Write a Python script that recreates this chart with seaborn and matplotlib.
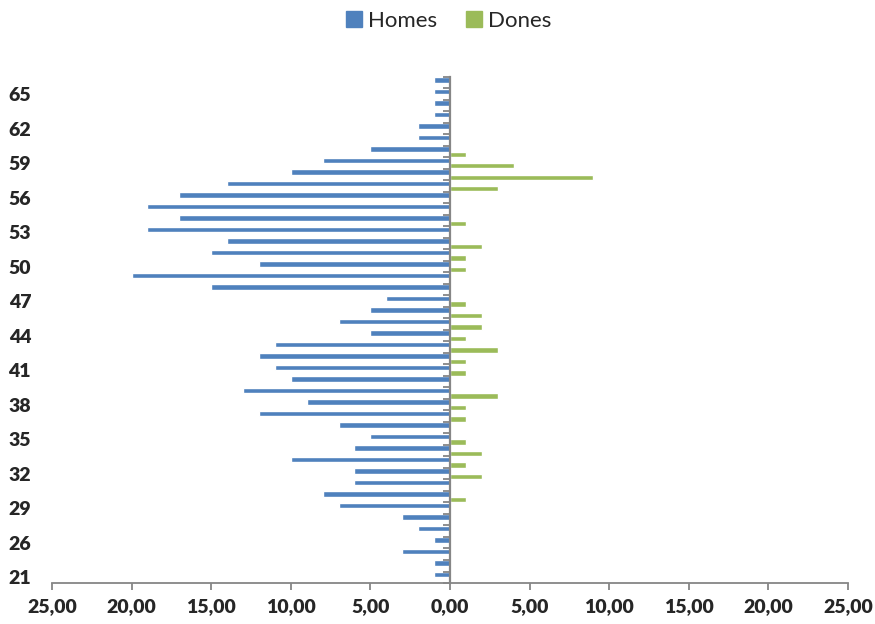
import matplotlib
matplotlib.use("Agg")
import numpy as np
import pandas as pd
import matplotlib.pyplot as plt
from matplotlib.patches import Patch
import seaborn as sns

# Ages from youngest to oldest (only some are labelled on the axis)
ages = [21, 23, 25, 26, 27, 28, 29, 30, 31, 32, 33, 34, 35, 36, 37, 38, 39, 40, 41, 42, 43, 44,
        45, 46, 47, 48, 49, 50, 51, 52, 53, 54, 55, 56, 57, 58, 59, 60, 61, 62, 63, 64, 65, 66]
homes = [1, 1, 3, 1, 2, 3, 7, 8, 6, 6, 10, 6, 5, 7, 12, 9, 13, 10, 11, 12, 11, 5,
         7, 5, 4, 15, 20, 12, 15, 14, 19, 17, 19, 17, 14, 10, 8, 5, 2, 2, 1, 1, 1, 1]
dones = [0, 0, 0, 0, 0, 0, 0, 1, 0, 2, 1, 2, 1, 0, 1, 1, 3, 0, 1, 1, 3, 1,
         2, 2, 1, 0, 0, 1, 1, 2, 0, 1, 0, 0, 3, 9, 4, 1, 0, 0, 0, 0, 0, 0]
shown_ages = [21, 26, 29, 32, 35, 38, 41, 44, 47, 50, 53, 56, 59, 62, 65]
x_ticks = [-25, -20, -15, -10, -5, 0, 5, 10, 15, 20, 25]

BLUE = "#4F81BD"
GREEN = "#9BBB59"
GREY = "#868686"

sns.set_theme(style="white")
plt.rcParams["font.family"] = ["Lato", "DejaVu Sans"]

n = len(ages)
df = pd.DataFrame({
    "edat": [str(a) for a in ages] * 2,
    "sexe": ["Homes"] * n + ["Dones"] * n,
    "valor": [-h for h in homes] + dones,
})
order = [str(a) for a in ages[::-1]]

fig = plt.figure(figsize=(8.75, 6.24), dpi=100)
ax = fig.add_axes([0.0594, 0.0657, 0.9097, 0.811])

sns.barplot(data=df, x="valor", y="edat", hue="sexe", order=order,
            hue_order=["Homes", "Dones"], palette={"Homes": BLUE, "Dones": GREEN},
            orient="h", width=0.92, errorbar=None, saturation=1, legend=False, ax=ax)

ax.set_xlim(-25, 25)
ax.set_xlabel("")
ax.set_ylabel("")
ax.set_xticks(x_ticks)
ax.set_xticklabels([f"{abs(v):.2f}".replace(".", ",") for v in x_ticks],
                   fontweight="heavy", fontsize=14)
ax.set_yticks([order.index(str(a)) for a in shown_ages])
ax.set_yticklabels([str(a) for a in shown_ages], fontweight="heavy", fontsize=14)

for s in ["top", "right", "left"]:
    ax.spines[s].set_visible(False)
ax.spines["bottom"].set_color(GREY)
ax.spines["bottom"].set_linewidth(1.3)
ax.tick_params(axis="x", direction="out", length=5, width=1.3, color=GREY, pad=6, bottom=True)
ax.tick_params(axis="y", length=0, pad=15)

# category axis drawn at zero with ticks between categories
sec = ax.secondary_yaxis(0.5)
sec.set_alignment("left")
sec.set_zorder(5)
sec.set_yticks(np.arange(n + 1) - 0.5)
sec.tick_params(axis="y", direction="out", length=5, width=1.3, color=GREY,
                labelleft=False, labelright=False)
sec.spines["left"].set_visible(True)
sec.spines["left"].set_color(GREY)
sec.spines["left"].set_linewidth(1.6)

handles = [Patch(color=BLUE, label="Homes"), Patch(color=GREEN, label="Dones")]
fig.legend(handles=handles, loc="center", bbox_to_anchor=(0.513, 0.967), ncol=2,
           frameon=False, fontsize=16, handlelength=0.7, handleheight=0.7,
           handletextpad=0.3, columnspacing=1.3)

fig.savefig("out.png", dpi=100)
